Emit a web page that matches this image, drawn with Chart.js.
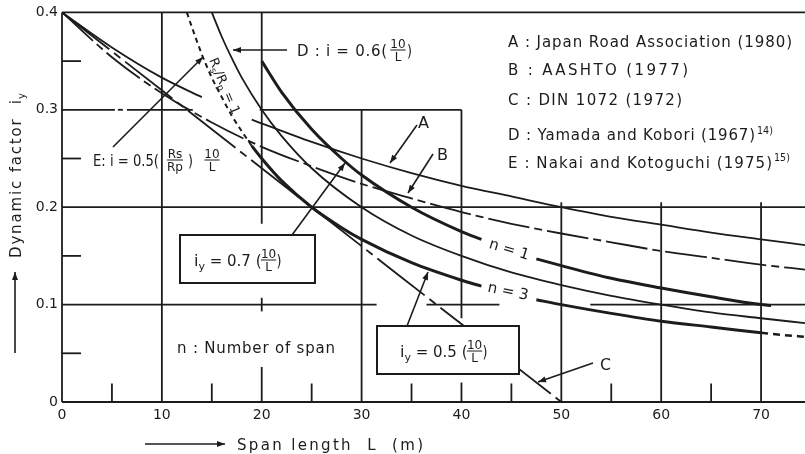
<!DOCTYPE html>
<html>
<head>
<meta charset="utf-8">
<title>Dynamic factor vs span length</title>
<script src="https://cdn.jsdelivr.net/npm/chart.js@4.4.1/dist/chart.umd.min.js"></script>
<style>
  html, body { margin: 0; padding: 0; background: #fff; }
  canvas { display: block; }
</style>
</head>
<body>
<canvas id="myChart" width="805" height="454"></canvas>
<script>
// axis ticks
const xTicks = [0, 10, 20, 30, 40, 50, 60, 70];
const yTicks = [0, 0.1, 0.2, 0.3, 0.4];
const yTickLabels = ['0', '0.1', '0.2', '0.3', '0.4'];

// A : Japan Road Association (1980)
const spanA = [0, 5, 10, 14, 16.5, 19, 25, 30, 35, 40, 45, 50, 55, 60, 65, 70, 74.4];
const factorA = [0.400, 0.364, 0.333, 0.313, null, 0.290, 0.267, 0.250, 0.235, 0.222, 0.211, 0.200, 0.190, 0.182, 0.174, 0.167, 0.161];

// B : AASHTO (1977)
const spanB = [0, 5, 10, 15, 20, 25, 30, 35, 40, 45, 50, 55, 60, 65, 70, 74.4];
const factorB = [0.400, 0.354, 0.317, 0.287, 0.262, 0.242, 0.224, 0.209, 0.195, 0.183, 0.173, 0.164, 0.155, 0.148, 0.141, 0.136];

// C : DIN 1072 (1972)
const spanC = [0, 10, 20, 30, 40, 50];
const factorC = [0.40, 0.32, 0.24, 0.16, 0.08, 0.00];

// D : Yamada and Kobori, i = 0.6(10/L)
const spanD = [15, 16, 17, 18, 20, 22, 25, 30, 35, 40, 45, 50, 55, 60, 65, 70, 74.4];
const factorD = [0.400, 0.375, 0.353, 0.333, 0.300, 0.273, 0.240, 0.200, 0.171, 0.150, 0.133, 0.120, 0.109, 0.100, 0.092, 0.086, 0.081];

// E : Nakai and Kotoguchi, Rs/Rp = 1
const spanE = [12.5, 13, 14, 15, 16, 17, 18, 19];
const factorE = [0.400, 0.385, 0.357, 0.333, 0.313, 0.294, 0.278, 0.263];

// n = 1 : iy = 0.7(10/L)
const spanN1 = [20, 22, 25, 28, 30, 35, 40, 42, 45, 47.5, 50, 55, 60, 65, 70, 71];
const factorN1 = [0.350, 0.318, 0.280, 0.250, 0.233, 0.200, 0.175, 0.167, null, 0.147, 0.140, 0.127, 0.117, 0.108, 0.100, 0.099];

// n = 3 : iy = 0.5(10/L)
const spanN3 = [19, 20, 22, 25, 28, 30, 35, 40, 42, 45, 47.5, 50, 55, 60, 65, 70];
const factorN3 = [0.263, 0.250, 0.227, 0.200, 0.179, 0.167, 0.143, 0.125, 0.119, null, 0.105, 0.100, 0.091, 0.083, 0.077, 0.071];
const spanN3tail = [70, 72, 74.4];
const factorN3tail = [0.071, 0.069, 0.067];

const ink = '#1c1c1c';
const FONT = '"DejaVu Sans"';

function pts(xs, ys) {
  return xs.map((x, i) => ({ x: x, y: ys[i] }));
}

function curve(label, xs, ys, width, dash) {
  return {
    label: label,
    data: pts(xs, ys),
    showLine: true,
    borderColor: ink,
    borderWidth: width,
    borderDash: dash || [],
    pointRadius: 0,
    fill: false,
    spanGaps: false,
    cubicInterpolationMode: 'monotone'
  };
}

// partial grid as printed: [x, yFrom, yTo] and [y, xFrom, xTo]
const vLines = [[0, 0, 0.4], [10, 0, 0.4], [20, 0.183, 0.4], [20, 0.093, 0.107], [20, 0, 0.036],
  [30, 0, 0.3], [40, 0.086, 0.3], [40, 0, 0.02], [50, 0, 0.205], [60, 0, 0.205], [70, 0, 0.205],
  [5, 0, 0.019], [15, 0, 0.019], [25, 0, 0.019], [35, 0, 0.019], [45, 0, 0.019], [55, 0, 0.019], [65, 0, 0.019]];
const hLines = [[0, 0, 74.4], [0.4, 0, 74.4], [0.3, 0, 5.3], [0.3, 5.6, 6.1], [0.3, 6.5, 13.1], [0.3, 19.8, 40],
  [0.2, 0, 74.4], [0.1, 0, 31.5], [0.1, 36.5, 43.8], [0.1, 52.9, 74.4],
  [0.05, 0, 1.9], [0.15, 0, 1.9], [0.25, 0, 1.9], [0.35, 0, 1.9]];

function seg(ctx, x1, y1, x2, y2) {
  ctx.beginPath();
  ctx.moveTo(x1, y1);
  ctx.lineTo(x2, y2);
  ctx.stroke();
}

function arrow(ctx, x1, y1, x2, y2) {
  seg(ctx, x1, y1, x2, y2);
  const a = Math.atan2(y2 - y1, x2 - x1);
  ctx.beginPath();
  ctx.moveTo(x2, y2);
  ctx.lineTo(x2 - 8 * Math.cos(a) + 3 * Math.sin(a), y2 - 8 * Math.sin(a) - 3 * Math.cos(a));
  ctx.lineTo(x2 - 8 * Math.cos(a) - 3 * Math.sin(a), y2 - 8 * Math.sin(a) + 3 * Math.cos(a));
  ctx.closePath();
  ctx.fill();
}

// text spread (letter spacing) or squeezed to a given width
function fit(ctx, s, x, y, w, size) {
  ctx.font = size + 'px ' + FONT;
  ctx.textAlign = 'left';
  ctx.textBaseline = 'alphabetic';
  ctx.letterSpacing = '0px';
  const m = ctx.measureText(s).width;
  ctx.save();
  ctx.translate(x, y);
  if (w && w > m && s.length > 1) {
    ctx.letterSpacing = ((w - m) / (s.length - 1)) + 'px';
  } else if (w) {
    ctx.scale(w / m, 1);
  }
  ctx.fillText(s, 0, 0);
  ctx.restore();
  ctx.letterSpacing = '0px';
}

function frac(ctx, top, bot, cx, cy, size) {
  ctx.font = size + 'px ' + FONT;
  ctx.textAlign = 'center';
  ctx.textBaseline = 'alphabetic';
  ctx.fillText(top, cx, cy - 2);
  ctx.fillText(bot, cx, cy + size * 0.8 + 1);
  const w = Math.max(ctx.measureText(top).width, ctx.measureText(bot).width);
  ctx.lineWidth = 1;
  seg(ctx, cx - w / 2, cy, cx + w / 2, cy);
  ctx.textAlign = 'left';
}

// runs of [text, size, dy] drawn one after another
function runs(ctx, list, x, y) {
  ctx.textAlign = 'left';
  ctx.textBaseline = 'alphabetic';
  let cx = x;
  list.forEach(r => {
    ctx.font = r[1] + 'px ' + FONT;
    ctx.fillText(r[0], cx, y + (r[2] || 0));
    cx += ctx.measureText(r[0]).width;
  });
  return cx - x;
}

const drawing = {
  id: 'drawing',
  beforeDatasetsDraw(chart) {
    const ctx = chart.ctx;
    const sx = chart.scales.x, sy = chart.scales.y;
    ctx.save();
    ctx.strokeStyle = ink;
    ctx.lineWidth = 1.8;
    vLines.forEach(v => seg(ctx, sx.getPixelForValue(v[0]), sy.getPixelForValue(v[1]),
      sx.getPixelForValue(v[0]), sy.getPixelForValue(v[2])));
    hLines.forEach(h => seg(ctx, sx.getPixelForValue(h[1]), sy.getPixelForValue(h[0]),
      sx.getPixelForValue(h[2]), sy.getPixelForValue(h[0])));
    ctx.restore();
  },
  afterDatasetsDraw(chart) {
    const ctx = chart.ctx;
    ctx.save();
    ctx.fillStyle = ink;
    ctx.strokeStyle = ink;

    // boxes
    ctx.lineWidth = 2;
    ctx.fillStyle = '#fff';
    ctx.fillRect(180, 235, 135, 48);
    ctx.strokeRect(180, 235, 135, 48);
    ctx.fillRect(377, 326, 142, 48);
    ctx.strokeRect(377, 326, 142, 48);
    ctx.fillStyle = ink;

    // leaders
    ctx.lineWidth = 1.6;
    arrow(ctx, 287, 50, 233, 50);
    arrow(ctx, 113, 147, 203, 57);
    arrow(ctx, 417, 125, 390, 163);
    arrow(ctx, 433, 154, 408, 193);
    arrow(ctx, 292, 235, 345, 163);
    arrow(ctx, 407, 326, 428, 272);
    arrow(ctx, 593, 363, 538, 382);
    // axis title arrows
    arrow(ctx, 15, 353, 15, 272);
    arrow(ctx, 145, 444, 225, 444);

    // legend
    fit(ctx, 'A : Japan Road Association (1980)', 508, 47, 284, 15);
    fit(ctx, 'B : AASHTO (1977)', 508, 75, 180, 15);
    fit(ctx, 'C : DIN 1072 (1972)', 508, 105, 174, 15);
    fit(ctx, 'D : Yamada and Kobori (1967)', 508, 140, 247, 15);
    fit(ctx, '14)', 757, 134, 16, 10);
    fit(ctx, 'E : Nakai and Kotoguchi (1975)', 508, 168, 264, 15);
    fit(ctx, '15)', 774, 161, 16, 10);

    // D formula
    fit(ctx, 'D : i = 0.6(', 297, 56, 90, 15);
    frac(ctx, '10', 'L', 398, 50, 12);
    fit(ctx, ')', 407, 56, 5, 15);

    // E formula
    fit(ctx, 'E: i = 0.5(', 93, 166, 66, 15);
    frac(ctx, 'Rs', 'Rp', 175, 160, 12);
    fit(ctx, ')', 188, 166, 5, 15);
    frac(ctx, '10', 'L', 212, 160, 12);

    // Rs/Rp = 1 along curve E
    ctx.save();
    ctx.translate(209, 60);
    ctx.rotate(67 * Math.PI / 180);
    runs(ctx, [['R', 13], ['s', 9, 3], ['/', 13], ['R', 13], ['p', 9, 3], [' = 1', 13]], 0, 0);
    ctx.restore();

    // boxed formulas
    let w = runs(ctx, [['i', 16], ['y', 11, 4], [' = 0.7 (', 15]], 194, 266);
    frac(ctx, '10', 'L', 194 + w + 7, 260, 12);
    fit(ctx, ')', 194 + w + 15, 266, 5, 15);
    w = runs(ctx, [['i', 16], ['y', 11, 4], [' = 0.5 (', 15]], 400, 357);
    frac(ctx, '10', 'L', 400 + w + 7, 351, 12);
    fit(ctx, ')', 400 + w + 15, 357, 5, 15);

    fit(ctx, 'n : Number of span', 177, 353, 158, 15);
    fit(ctx, 'A', 418, 128, 11, 15);
    fit(ctx, 'B', 437, 160, 11, 15);
    fit(ctx, 'C', 600, 370, 11, 15);

    ctx.save();
    ctx.translate(509, 250);
    ctx.rotate(17 * Math.PI / 180);
    ctx.font = '15px ' + FONT;
    ctx.textAlign = 'center';
    ctx.textBaseline = 'middle';
    ctx.fillText('n = 1', 0, 0);
    ctx.restore();
    ctx.save();
    ctx.translate(508, 292);
    ctx.rotate(12 * Math.PI / 180);
    ctx.font = '15px ' + FONT;
    ctx.textAlign = 'center';
    ctx.textBaseline = 'middle';
    ctx.fillText('n = 3', 0, 0);
    ctx.restore();

    // axis titles
    fit(ctx, 'Span length  L  (m)', 237, 450, 186, 15);
    ctx.save();
    ctx.translate(21, 258);
    ctx.rotate(-Math.PI / 2);
    fit(ctx, 'Dynamic factor  i', 0, 0, 158, 15);
    ctx.font = '10px ' + FONT;
    ctx.fillText('y', 159, 4);
    ctx.restore();

    ctx.restore();
  }
};

new Chart(document.getElementById('myChart'), {
  type: 'scatter',
  data: {
    datasets: [
      curve('A', spanA, factorA, 1.8),
      curve('B', spanB, factorB, 1.8, [42, 5, 8, 5]),
      curve('C', spanC, factorC, 1.8, [60, 6, 8, 6]),
      curve('D', spanD, factorD, 1.8),
      curve('E', spanE, factorE, 2, [5, 4]),
      curve('n=1', spanN1, factorN1, 3),
      curve('n=3', spanN3, factorN3, 3),
      curve('n=3 tail', spanN3tail, factorN3tail, 2.5, [7, 5])
    ]
  },
  options: {
    responsive: false,
    animation: false,
    devicePixelRatio: 1,
    layout: { padding: { top: 12, right: 0, left: 0, bottom: 0 } },
    plugins: {
      legend: { display: false },
      tooltip: { enabled: false }
    },
    scales: {
      x: {
        type: 'linear',
        min: 0,
        max: 74.4,
        grid: { display: false, drawTicks: false },
        border: { display: false },
        afterBuildTicks: s => { s.ticks = xTicks.map(v => ({ value: v })); },
        afterFit: s => { s.height = 52; },
        ticks: {
          color: ink,
          padding: 5,
          maxRotation: 0,
          font: { family: 'DejaVu Sans', size: 14 },
          callback: v => String(v)
        }
      },
      y: {
        min: 0,
        max: 0.4,
        grid: { display: false, drawTicks: false },
        border: { display: false },
        afterBuildTicks: s => { s.ticks = yTicks.map(v => ({ value: v })); },
        afterFit: s => { s.width = 62; },
        ticks: {
          color: ink,
          padding: 4,
          font: { family: 'DejaVu Sans', size: 14 },
          callback: (v, i) => yTickLabels[i]
        }
      }
    }
  },
  plugins: [drawing]
});
</script>
</body>
</html>
